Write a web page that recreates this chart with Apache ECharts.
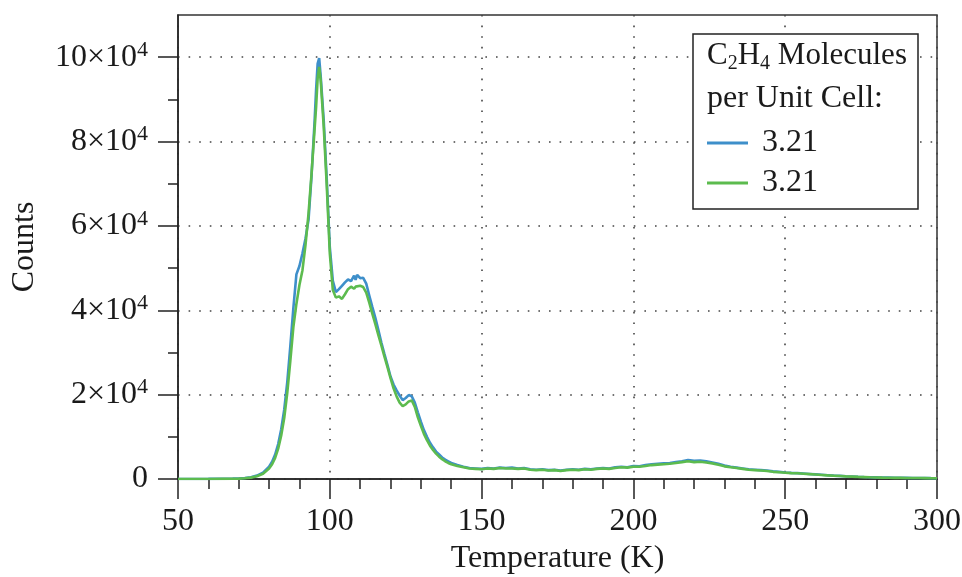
<!DOCTYPE html>
<html>
<head>
<meta charset="utf-8">
<script src="https://cdn.jsdelivr.net/npm/echarts@6/dist/echarts.min.js"></script>
<style>
html,body{margin:0;padding:0;background:#fff;}
#chart{width:962px;height:577px;}
</style>
</head>
<body>
<div id="chart"></div>
<script>
// Temperature (K) sample points shared by both series
var temps = [50,55,60,65,68,70,72,74,76,78,80,
  81,82,83,84,85,86,87,88,89,90,91,92,93,94,95,95.5,96,96.5,
  97,98,99,100,101,102,103,104,105,106,107,108,108.5,
  109,110,111,112,113,114,115,116,117,118,119,120,121,122,123,124,125,126,127,128,129,130,131,132,133,134,135,136,137,138,139,140,
  142,144,146,148,150,152,154,156,158,160,
  162,164,166,168,170,172,174,176,178,180,
  182,184,186,188,190,192,194,196,198,200,
  202,204,206,208,210,212,214,216,218,220,
  222,224,226,228,230,232,234,236,238,240,
  242,244,246,248,250,252,254,256,258,260,
  262,264,266,268,270,272,274,276,278,280,
  282,284,286,288,290,292,294,296,298,300];

var seriesNames = ['3.21', '3.21'];

var blueCounts = [0,0,20,50,80,120,220,400,800,1500,2900,
  4100,5800,8300,11800,16500,23000,31500,40500,48500,50500,53500,57000,61500,72000,85000,92500,98500,99800,
  95500,85000,71000,55000,47000,44300,45000,45800,46600,47300,46900,48200,47200,
  48400,47600,47700,46300,43500,40800,38200,35300,32300,29600,27000,24300,22400,21000,19800,18700,19200,19900,19600,18100,15800,13600,11600,10000,8600,7500,6500,5800,5100,4600,4200,3800,
  3300,2900,2600,2500,2400,2600,2500,2700,2600,2700,
  2500,2600,2300,2200,2300,2100,2200,2000,2200,2300,
  2200,2400,2300,2500,2600,2500,2800,2900,2800,3100,
  3000,3300,3500,3600,3700,3800,4000,4200,4500,4300,
  4400,4200,3900,3600,3200,2900,2700,2500,2300,2200,
  2100,2000,1800,1700,1550,1450,1400,1300,1200,1100,
  1000,900,800,750,650,600,520,460,420,380,
  340,330,300,290,270,250,240,220,200,190];

var greenCounts = [0,0,10,40,60,100,180,330,650,1250,2500,
  3500,5000,7200,10300,14500,20500,28000,36000,41500,46000,49500,55500,63000,72500,83000,88300,95000,97700,
  94500,83500,69500,53500,44800,43000,43300,42700,43800,45000,45600,45100,45600,
  46000,45800,45500,44200,41800,39200,36700,34100,31600,29000,26500,23900,21500,19600,18100,17300,17700,18400,18600,17100,14600,12600,10700,9200,7900,6900,6000,5300,4700,4200,3800,3500,
  3100,2800,2500,2400,2300,2500,2400,2600,2500,2500,
  2400,2500,2200,2100,2200,2000,2100,1900,2100,2200,
  2100,2300,2200,2400,2500,2400,2600,2800,2700,2900,
  2900,3100,3300,3400,3500,3600,3800,4000,4200,4000,
  4100,3900,3700,3400,3000,2800,2600,2400,2200,2100,
  2000,1900,1700,1600,1500,1400,1350,1250,1150,1050,
  950,850,780,700,620,560,500,450,400,360,
  320,310,270,270,250,230,220,200,180,170];

var xTicks = [50,100,150,200,250,300];
var yMajorTicks = [0,20000,40000,60000,80000,100000];
var yMinorTicks = [10000,30000,50000,70000,90000];

function pairs(ys){ return temps.map(function(t,i){ return [t, ys[i]]; }); }

var FONT = '"Liberation Serif", "DejaVu Serif", serif';
var INK = '#1a1a1a';

var chart = echarts.init(document.getElementById('chart'), null, {renderer:'canvas'});
var option = {
  animation: false,
  backgroundColor: '#ffffff',
  textStyle: {fontFamily: FONT, color: INK},
  grid: {left: 178, right: 25, top: 15, bottom: 98, outerBoundsMode: 'none', containLabel: false,
         show: true, borderColor: '#333', borderWidth: 1.5, backgroundColor: 'transparent'},
  xAxis: {
    type: 'value', min: 50, max: 300, interval: 50,
    name: 'Temperature (K)', nameLocation: 'middle', nameGap: 63,
    nameTextStyle: {fontFamily: FONT, fontSize: 32, color: INK},
    axisLine: {show: true, onZero: false, lineStyle: {color: '#222', width: 1.5}},
    axisTick: {show: true, inside: false, length: 20, lineStyle: {color: '#222', width: 1.5}, customValues: xTicks},
    minorTick: {show: true, splitNumber: 5, length: 10, lineStyle: {color: '#222', width: 1.5}},
    axisLabel: {fontFamily: FONT, fontSize: 32, color: INK, margin: 27, showMinLabel: true, showMaxLabel: true, customValues: xTicks},
    splitLine: {show: true, lineStyle: {color: '#444', width: 1.6, type: [1.6, 9]}}
  },
  yAxis: [{
    type: 'value', min: 0, max: 110000, interval: 20000,
    name: 'Counts', nameLocation: 'middle', nameGap: 137,
    nameTextStyle: {fontFamily: FONT, fontSize: 32, color: INK},
    axisLine: {show: true, onZero: false, lineStyle: {color: '#222', width: 1.5}},
    axisTick: {show: true, length: 20, lineStyle: {color: '#222', width: 1.5}, customValues: yMajorTicks},
    minorTick: {show: false},
    axisLabel: {
      margin: 30, customValues: yMajorTicks,
      formatter: function(v){
        if (v === 0) return '{n|0}';
        if (v > 100000) return '';
        return '{n|' + (v/10000) + '×10}{sup|4}';
      },
      rich: {
        n: {fontFamily: FONT, fontSize: 32, color: INK, lineHeight: 36},
        sup: {fontFamily: FONT, fontSize: 22, color: INK, lineHeight: 16, verticalAlign: 'top'}
      }
    },
    splitLine: {show: true, lineStyle: {color: '#444', width: 1.6, type: [1.6, 9]}}
  }, {
    type: 'value', min: 0, max: 110000, interval: 20000, position: 'left',
    axisLine: {show: false},
    axisTick: {show: true, length: 10, lineStyle: {color: '#222', width: 1.5}, customValues: yMinorTicks},
    axisLabel: {show: false},
    splitLine: {show: false}
  }],
  legend: {
    orient: 'vertical', left: 707, top: 123, padding: 0,
    itemGap: 0, itemWidth: 41, itemHeight: 3, icon: 'rect',
    data: [{name: 'a'}, {name: 'b'}],
    formatter: function(name){ return name === 'a' ? seriesNames[0] : seriesNames[1]; },
    textStyle: {fontFamily: FONT, fontSize: 32, color: INK, lineHeight: 40, padding: [0,0,0,9]},
    selectedMode: false, z: 6
  },
  graphic: [
    {type: 'rect', z: 3, shape: {x: 693, y: 34, width: 225, height: 175},
     style: {fill: '#fff', stroke: '#222', lineWidth: 1.5}},
    {type: 'text', z: 6, left: 707, top: 40,
     style: {text: '{n|C}{s|2}{n|H}{s|4}{n| Molecules}', fill: INK,
       rich: {n: {fontFamily: FONT, fontSize: 31, lineHeight: 36, color: INK},
              s: {fontFamily: FONT, fontSize: 20, lineHeight: 14, verticalAlign: 'bottom', color: INK}}}},
    {type: 'text', z: 6, left: 707, top: 83,
     style: {text: 'per Unit Cell:', fill: INK, font: '32px ' + FONT}}
  ],
  series: [
    {name: 'a', type: 'line', xAxisIndex: 0, yAxisIndex: 0, symbol: 'none', showSymbol: false,
     data: pairs(blueCounts), lineStyle: {color: '#3e8fca', width: 2.6}, itemStyle: {color: '#3e8fca'}, z: 2},
    {name: 'b', type: 'line', xAxisIndex: 0, yAxisIndex: 0, symbol: 'none', showSymbol: false,
     data: pairs(greenCounts), lineStyle: {color: '#5cbb4e', width: 2.6}, itemStyle: {color: '#5cbb4e'}, z: 2}
  ]
};
chart.setOption(option);
</script>
</body>
</html>
